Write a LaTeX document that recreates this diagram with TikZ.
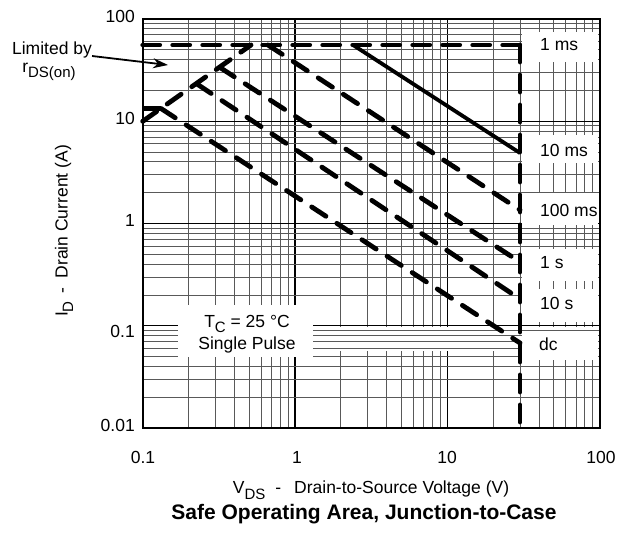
\documentclass[tikz,border=0pt]{standalone}
\usepackage{fontspec}
\setmainfont{Liberation Sans}
\usetikzlibrary{arrows.meta}
\newcommand\subtx[1]{\raisebox{-0.32em}{\fontsize{15}{15}\selectfont #1}}
\begin{document}
\begin{tikzpicture}[x=1pt,y=-1pt,
  minorline/.style={line width=0.9pt, black!65},
  majorline/.style={line width=1.2pt, black},
  maskbox/.style={fill=white, draw=none},
  soadash/.style={line width=4.8pt, line cap=round, dash pattern=on 17pt off 13pt},
  soasolid/.style={line width=3.8pt},
  lbl/.style={font=\fontsize{17.5}{21}\selectfont, inner sep=0pt},
  ticklbl/.style={font=\fontsize{17.5}{20}\selectfont, inner sep=0pt},
  titlelbl/.style={font=\fontsize{21}{24}\selectfont\bfseries, inner sep=0pt}]
\useasboundingbox (0,0) rectangle (619,533);
% vertical grid lines
\foreach \d in {0,1,2}{
  \foreach \k in {2,...,9}{
    \pgfmathsetmacro\xx{142.7+152.3*(\d+log10(\k))}
    \draw[minorline] (\xx,19) -- (\xx,428);
  }
  \pgfmathsetmacro\xx{142.7+152.3*\d}
  \draw[majorline] (\xx,19) -- (\xx,428);
}
% band where vertical lines are missing
\fill[maskbox] (313,327) rectangle (598,350.5);
% horizontal grid lines
\foreach \d in {0,1,2,3}{
  \foreach \k in {2,...,9}{
    \pgfmathsetmacro\yy{428-102.25*(\d+log10(\k))}
    \draw[minorline] (142.7,\yy) -- (599.6,\yy);
  }
  \pgfmathsetmacro\yy{428-102.25*\d}
  \draw[majorline] (142.7,\yy) -- (599.6,\yy);
}
% label boxes
\fill[maskbox] (178,305) rectangle (313,357);
\fill[maskbox] (522,32) rectangle (598,62);
\fill[maskbox] (522,135) rectangle (598,163);
\fill[maskbox] (522,193) rectangle (598,225);
\fill[maskbox] (522,249) rectangle (598,281);
\fill[maskbox] (522,289) rectangle (598,322);
\fill[maskbox] (522,334) rectangle (598,360);
% curve end points
\coordinate (rs) at (142.7,121.3);
\coordinate (rm) at (251,45);
\coordinate (im0) at (142.7,45);
\coordinate (im1) at (520,45);
\coordinate (vb) at (520,428);
\coordinate (a10ms) at (353,45);
\coordinate (b10ms) at (520,153);
\coordinate (a100ms) at (268,45);
\coordinate (b100ms) at (520,210);
\coordinate (a1s) at (220,67.5);
\coordinate (b1s) at (520,262);
\coordinate (a10s) at (197,84);
\coordinate (b10s) at (520,299);
\coordinate (dc0) at (142.7,108.5);
\coordinate (adc) at (161,108.5);
\coordinate (bdc) at (520,343);
% curves
\draw[soadash] (im0) -- (im1);
\draw[soadash] (im1) -- (vb);
\draw[soadash] (rs) -- (rm);
\draw[soasolid] (a10ms) -- (b10ms);
\draw[soadash] (a100ms) -- (b100ms);
\draw[soadash] (a1s) -- (b1s);
\draw[soadash] (a10s) -- (b10s);
\draw[line width=4.6pt] (dc0) -- (adc);
\draw[soadash] (adc) -- (bdc);
% frame
\draw[line width=2.2pt] (142.7,19) rectangle (599.6,428);
% y tick labels
\node[ticklbl, anchor=east] (y100) at (135,16) {100};
\node[ticklbl, anchor=east] (y10) at (135,118) {10};
\node[ticklbl, anchor=east] (y1) at (135,220) {1};
\node[ticklbl, anchor=east] (y01) at (135,331) {0.1};
\node[ticklbl, anchor=east] (y001) at (135,425) {0.01};
% x tick labels
\node[ticklbl] (x01) at (143,457) {0.1};
\node[ticklbl] (x1) at (297,457) {1};
\node[ticklbl] (x10) at (447,457) {10};
\node[ticklbl] (x100) at (601,457) {100};
% curve labels
\node[lbl, anchor=west] (l1ms) at (540,45) {1 ms};
\node[lbl, anchor=west] (l10ms) at (540,150) {10 ms};
\node[lbl, anchor=west] (l100ms) at (540,210) {100 ms};
\node[lbl, anchor=west] (l1s) at (540,263) {1 s};
\node[lbl, anchor=west] (l10s) at (540,303) {10 s};
\node[lbl, anchor=west] (ldc) at (539,344) {dc};
% conditions
\node[lbl] (tc) at (247,324) {T\subtx{C} = 25 °C};
\node[lbl] (sp) at (247,345) {Single Pulse};
% limited by
\node[lbl] (lim) at (52,50) {Limited by};
\node[lbl] (rds) at (49,72) {r\subtx{DS(on)}};
\coordinate (arrtip) at (168,65);
\draw[line width=1.8pt, -{Stealth[length=15pt,width=10pt]}] ([yshift=-6pt]lim.east) -- (arrtip);
% axis titles
\node[lbl] (xt) at (371,490) {V\subtx{DS}\hspace{10pt}-\hspace{13pt}Drain-to-Source Voltage (V)};
\node[lbl, rotate=90] (yt) at (64,231) {I\subtx{D}\hspace{8pt}-\hspace{9pt}Drain Current (A)};
\node[titlelbl] (title) at (364,514) {Safe Operating Area, Junction-to-Case};
\end{tikzpicture}
\end{document}
